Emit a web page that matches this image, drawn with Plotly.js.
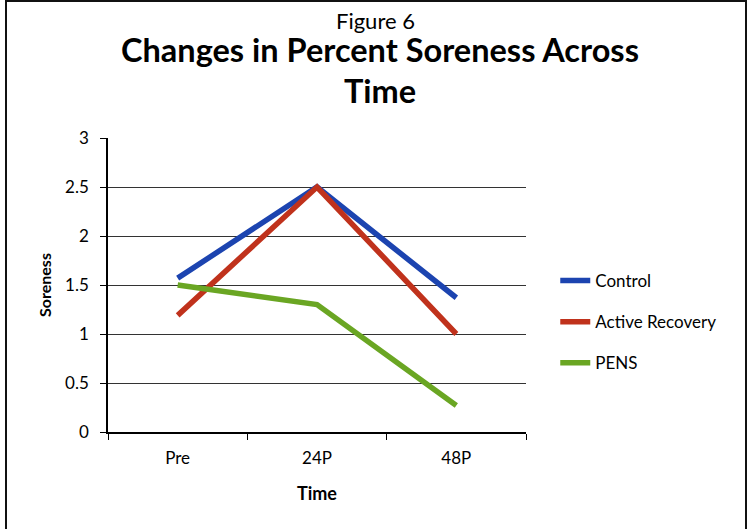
<!DOCTYPE html>
<html>
<head>
<meta charset="utf-8">
<script src="https://cdn.plot.ly/plotly-3.0.1.min.js"></script>
<style>
  html, body { margin: 0; padding: 0; background: #fff; }
  #wrap { position: relative; width: 751px; height: 529px; overflow: hidden; }
  #chart { width: 751px; height: 529px; }
  #frame { position: absolute; left: 5px; top: 0px; width: 738px; height: 560px;
           border: 2px solid #111; pointer-events: none; }
</style>
</head>
<body>
<div id="wrap">
  <div id="chart"></div>
  <div id="frame"></div>
</div>
<script>
const categories = ["Pre", "24P", "48P"];
const control = [1.57, 2.5, 1.37];
const activeRecovery = [1.19, 2.5, 1.0];
const pens = [1.5, 1.3, 0.27];
const seriesNames = ["Control", "Active Recovery", "PENS"];
const yTicks = [0, 0.5, 1, 1.5, 2, 2.5, 3];
const figureLabel = "Figure 6";
const titleLines = ["Changes in Percent Soreness Across", "Time"];

const font = "Lato, 'Open Sans', 'DejaVu Sans', sans-serif";
const colors = ["#1c44b0", "#c0321c", "#6aa623"];
const values = [control, activeRecovery, pens];

const traces = values.map((v, i) => ({
  x: categories,
  y: v,
  name: seriesNames[i],
  type: "scatter",
  mode: "lines",
  legendgroup: "g" + i,
  line: { color: colors[i], width: 5.5 },
  hoverinfo: "x+y+name"
}));

const layout = {
  width: 751,
  height: 529,
  paper_bgcolor: "#fff",
  plot_bgcolor: "#fff",
  margin: { l: 108, r: 225, t: 138, b: 97 },
  font: { family: font, color: "#000", size: 17 },
  annotations: [
    {
      text: figureLabel,
      xref: "paper", yref: "paper",
      x: 0.639, y: 1.398, xanchor: "center", yanchor: "middle",
      showarrow: false,
      font: { family: font, size: 22, color: "#000" }
    },
    {
      text: "<b>" + titleLines[0] + "</b>",
      xref: "paper", yref: "paper",
      x: 0.651, y: 1.300, xanchor: "center", yanchor: "middle",
      showarrow: false,
      font: { family: font, size: 32.5, color: "#000" }
    },
    {
      text: "<b>" + titleLines[1] + "</b>",
      xref: "paper", yref: "paper",
      x: 0.651, y: 1.160, xanchor: "center", yanchor: "middle",
      showarrow: false,
      font: { family: font, size: 32.5, color: "#000" }
    }
  ],
  showlegend: true,
  legend: {
    x: 1.07, y: 0.374, xanchor: "left", yanchor: "middle",
    font: { family: font, size: 17, color: "#000" },
    tracegroupgap: 16,
    bgcolor: "rgba(0,0,0,0)"
  },
  xaxis: {
    type: "category",
    range: [-0.5, 2.5],
    showline: true, linecolor: "#000", linewidth: 1.5,
    ticks: "outside", ticklen: 6, tickcolor: "#000",
    tickson: "boundaries",
    ticklabelstandoff: 10,
    showgrid: false, zeroline: false,
    tickfont: { family: font, size: 17, color: "#000" },
    title: { text: "<b>Time</b>", font: { family: font, size: 18, color: "#000" }, standoff: 20 }
  },
  yaxis: {
    range: [0, 3],
    tickvals: yTicks,
    ticktext: yTicks.map(String),
    showline: true, linecolor: "#000", linewidth: 1.5,
    ticks: "outside", ticklen: 6, tickcolor: "#000",
    ticklabelstandoff: 8,
    showgrid: true, gridcolor: "#333", gridwidth: 1,
    zeroline: false,
    tickfont: { family: font, size: 17, color: "#000" },
    title: { text: "<b>Soreness</b>", font: { family: font, size: 16, color: "#000" }, standoff: 10 }
  }
};

Plotly.newPlot("chart", traces, layout, { displayModeBar: false });
</script>
</body>
</html>
